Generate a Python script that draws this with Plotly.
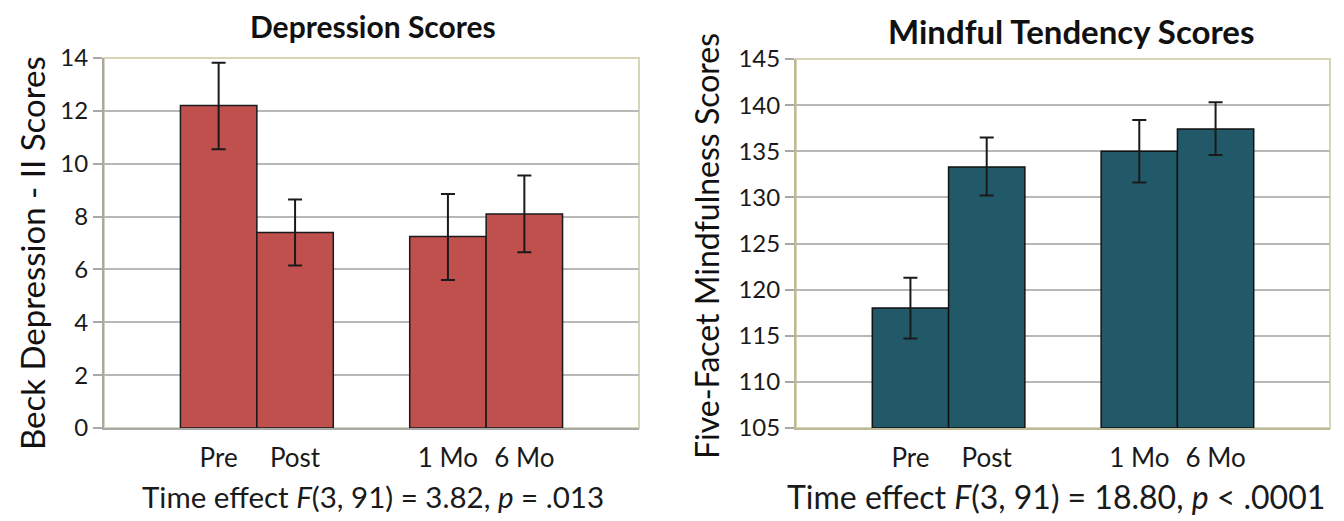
import plotly.graph_objects as go

categories = ["Pre", "Post", "1 Mo", "6 Mo"]
axis_slots = ["Pre", "Post", " ", "1 Mo", "6 Mo"]

dep_values = [12.2, 7.4, 7.25, 8.1]
dep_err_plus = [1.62, 1.25, 1.6, 1.45]
dep_err_minus = [1.65, 1.25, 1.65, 1.45]

mind_values = [118.0, 133.3, 135.0, 137.4]
mind_err_plus = [3.3, 3.2, 3.4, 2.9]
mind_err_minus = [3.3, 3.1, 3.4, 2.8]

dep_ticks = [0, 2, 4, 6, 8, 10, 12, 14]
mind_ticks = [105, 110, 115, 120, 125, 130, 135, 140, 145]

FONT = "Lato"
TXT = "#1a1a1a"
GRID = "#b8b8b8"
OLIVE = "#d8d5b6"

OFF = 8  # page body margin
W, H = 1344 - OFF, 521 - OFF
def px(x): return (x - OFF) / W
def py(y): return 1 - (y - OFF) / H

fig = go.Figure()
fig.add_trace(go.Bar(
    x=categories, y=dep_values, width=1.0,
    marker=dict(color="#c0504d", line=dict(color="#1a1a1a", width=1.5)),
    error_y=dict(type="data", array=dep_err_plus, arrayminus=dep_err_minus,
                 color="#1a1a1a", thickness=2, width=7),
    xaxis="x", yaxis="y", showlegend=False))
fig.add_trace(go.Bar(
    x=categories, y=[v - 105 for v in mind_values], base=105, width=1.0,
    marker=dict(color="#215968", line=dict(color="#111111", width=1.5)),
    error_y=dict(type="data", array=mind_err_plus, arrayminus=mind_err_minus,
                 color="#1a1a1a", thickness=2, width=7),
    xaxis="x2", yaxis="y2", showlegend=False))

xcommon = dict(type="category", categoryorder="array", categoryarray=axis_slots,
               range=[-1.5, 5.5], showgrid=False, zeroline=False, automargin=False,
               ticks="outside", ticklen=6, tickcolor="rgba(0,0,0,0)",
               tickfont=dict(family=FONT, size=26, color=TXT), fixedrange=True)
ycommon = dict(showgrid=True, gridcolor=GRID, gridwidth=2, zeroline=False, automargin=False,
               showline=True, linewidth=2, ticks="outside", ticklen=9,
               tickcolor="#a8a8a8", tickwidth=2,
               tickfont=dict(family=FONT, size=24, color=TXT))

def ann(text, x, y, size, bold=False, angle=0, color="#111"):
    return dict(text=f"<b>{text}</b>" if bold else text, x=px(x), y=py(y),
                xref="paper", yref="paper", xanchor="center", yanchor="middle",
                textangle=angle, showarrow=False,
                font=dict(family=FONT, size=size, color=color))

fig.update_layout(
    width=W, height=H, margin=dict(l=0, r=0, t=0, b=0, autoexpand=False),
    paper_bgcolor="white", plot_bgcolor="white",
    xaxis=dict(domain=[px(104), px(639)], anchor="y", showline=True,
               linecolor="#a8a8a8", linewidth=2, **xcommon),
    yaxis=dict(domain=[py(428), py(58)], anchor="x", range=[0, 14],
               tickvals=dep_ticks, linecolor="#a8a8a8", **ycommon),
    xaxis2=dict(domain=[px(796), px(1330)], anchor="y2", showline=True,
                linecolor="#bdb996", linewidth=2, **xcommon),
    yaxis2=dict(domain=[py(428), py(59)], anchor="x2", range=[105, 145],
                tickvals=mind_ticks, linecolor="#bdb996", **ycommon),
    shapes=[
        dict(type="rect", xref="x domain", yref="y domain", x0=0, x1=1, y0=0, y1=1,
             line=dict(color=OLIVE, width=2), layer="below"),
        dict(type="rect", xref="x2 domain", yref="y2 domain", x0=0, x1=1, y0=0, y1=1,
             line=dict(color=OLIVE, width=2), layer="below"),
    ],
    annotations=[
        ann("Depression Scores", 373, 26, 30, bold=True),
        ann("Mindful Tendency Scores", 1071, 31, 33, bold=True),
        ann("Beck Depression - II Scores", 32, 253, 33, angle=-90),
        ann("Five-Facet Mindfulness Scores", 706, 246, 32, angle=-90),
        ann("Time effect <i>F</i>(3, 91) = 3.82, <i>p</i> = .013", 373, 496, 29.5, color=TXT),
        ann("Time effect <i>F</i>(3, 91) = 18.80, <i>p</i> &lt; .0001", 1056, 496, 32, color=TXT),
    ],
)

fig.write_html("out.html")
